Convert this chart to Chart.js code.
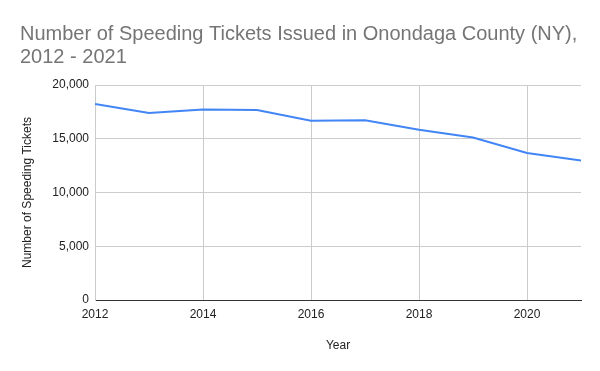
<!DOCTYPE html>
<html>
<head>
<meta charset="utf-8">
<script src="https://cdn.jsdelivr.net/npm/chart.js@4/dist/chart.umd.min.js"></script>
<style>
  html, body { margin: 0; padding: 0; background: #fff; }
  #wrap { width: 600px; height: 371px; }
</style>
</head>
<body>
<div id="wrap"><canvas id="chart"></canvas></div>
<script>
const years = [2012, 2013, 2014, 2015, 2016, 2017, 2018, 2019, 2020, 2021];
const tickets = [18230, 17390, 17730, 17670, 16680, 16710, 15840, 15120, 13670, 12980];
const yTicks = [0, 5000, 10000, 15000, 20000];

const FONT = "'Liberation Sans', Arial, sans-serif";

new Chart(document.getElementById("chart"), {
  type: "line",
  data: {
    datasets: [
      {
        label: "Number of Speeding Tickets",
        data: years.map((y, i) => ({ x: y, y: tickets[i] })),
        borderColor: "#4285F4",
        borderWidth: 2,
        pointRadius: 0,
        tension: 0,
        fill: false,
      },
    ],
  },
  options: {
    responsive: true,
    maintainAspectRatio: false,
    animation: false,
    layout: { padding: { left: 20, right: 19, top: 0, bottom: 0 } },
    plugins: {
      legend: { display: false },
      tooltip: { enabled: false },
      title: {
        display: true,
        align: "start",
        text: ["Number of Speeding Tickets Issued in Onondaga County (NY),", "2012 - 2021"],
        color: "#757575",
        font: { family: FONT, size: 20, weight: "normal", lineHeight: 1.15 },
        padding: { top: 23, bottom: 16 },
      },
    },
    scales: {
      x: {
        type: "linear",
        min: years[0],
        max: years[years.length - 1],
        afterFit: (s) => { s.height = 71; },
        ticks: {
          stepSize: 2,
          includeBounds: false,
          padding: 7,
          color: "#222",
          font: { family: FONT, size: 12 },
          callback: (v) => String(v),
        },
        grid: { color: "#cccccc", drawTicks: false },
        border: { color: "#333", width: 1 },
        title: {
          display: true,
          text: "Year",
          color: "#222",
          font: { family: FONT, size: 12 },
          padding: { top: 0, bottom: 18 },
        },
      },
      y: {
        min: yTicks[0],
        max: yTicks[yTicks.length - 1],
        afterFit: (s) => { s.width = 75; },
        afterBuildTicks: (s) => { s.ticks = yTicks.map((v) => ({ value: v })); },
        ticks: {
          padding: 6,
          color: "#222",
          font: { family: FONT, size: 12 },
          callback: (v) => v.toLocaleString("en-US"),
        },
        grid: {
          color: (c) => (c.tick && c.tick.value === 0 ? "rgba(0,0,0,0)" : "#cccccc"),
          drawTicks: false,
        },
        border: { color: "#cccccc", width: 1 },
        title: {
          display: true,
          text: "Number of Speeding Tickets",
          color: "#222",
          font: { family: FONT, size: 12 },
          padding: { top: 0, bottom: 0 },
        },
      },
    },
  },
});
</script>
</body>
</html>
